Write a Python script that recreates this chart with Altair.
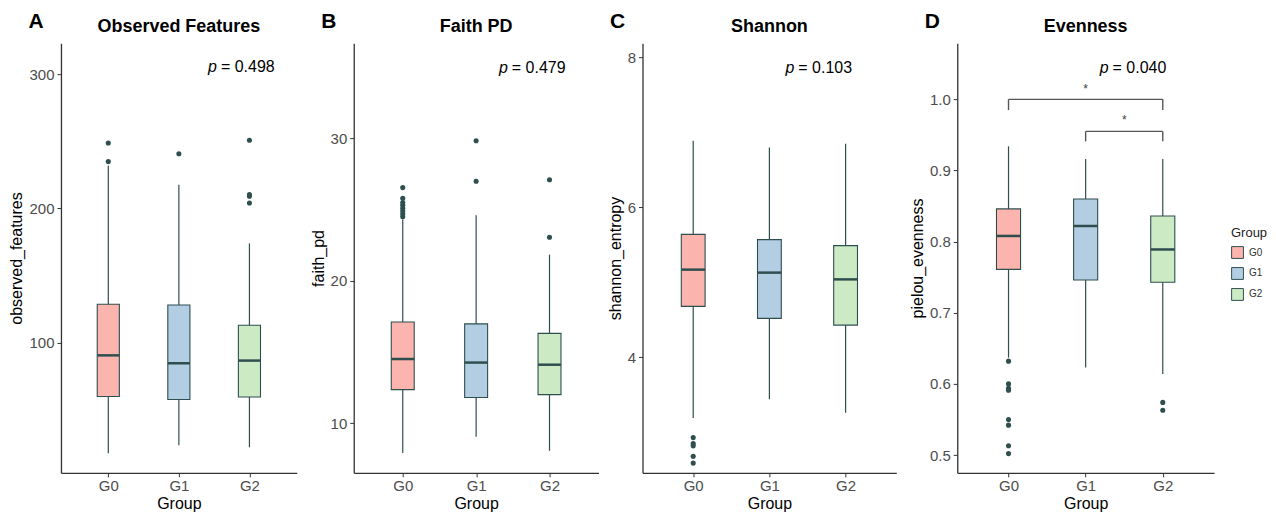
import altair as alt
import pandas as pd

groups = ["G0", "G1", "G2"]
xpos = [1, 2, 3]
colors = ["#FBB4AE", "#B3CDE3", "#CCEBC5"]
EDGE = "#2F4F4F"
FONT = "Liberation Sans"
H = 430

# Observed features
obs_low = [17.6, 23.6, 22.0]
obs_q1 = [59.8, 57.6, 59.5]
obs_med = [90.5, 84.6, 86.6]
obs_q3 = [128.5, 128.0, 112.9]
obs_high = [231.7, 217.5, 173.9]
obs_out_g = ["G0", "G0", "G1", "G2", "G2", "G2", "G2"]
obs_out_v = [248.7, 234.8, 240.7, 250.7, 210.3, 209.0, 204.0]

# Faith PD
fpd_low = [7.9, 9.03, 8.05]
fpd_q1 = [12.35, 11.8, 12.0]
fpd_med = [14.5, 14.25, 14.1]
fpd_q3 = [17.1, 16.97, 16.3]
fpd_high = [24.3, 24.6, 21.84]
fpd_out_g = ["G0"] * 8 + ["G1", "G1", "G2", "G2"]
fpd_out_v = [26.55, 25.8, 25.5, 25.3, 25.1, 24.9, 24.7, 24.5, 29.84, 27.0, 27.1, 23.06]

# Shannon
sha_low = [3.19, 3.44, 3.26]
sha_q1 = [4.68, 4.52, 4.43]
sha_med = [5.17, 5.13, 5.04]
sha_q3 = [5.64, 5.57, 5.49]
sha_high = [6.89, 6.80, 6.85]
sha_out_g = ["G0"] * 5
sha_out_v = [2.93, 2.85, 2.82, 2.68, 2.59]

# Evenness
eve_low = [0.637, 0.623, 0.614]
eve_q1 = [0.761, 0.746, 0.743]
eve_med = [0.808, 0.822, 0.789]
eve_q3 = [0.846, 0.860, 0.836]
eve_high = [0.934, 0.916, 0.916]
eve_out_g = ["G0"] * 8 + ["G2", "G2"]
eve_out_v = [0.632, 0.600, 0.594, 0.591, 0.550, 0.542, 0.513, 0.502, 0.574, 0.563]

# significance brackets (Evenness)
br_x1 = [1, 2]
br_x2 = [3, 3]
br_y = [1.0, 0.955]
br_drop = [0.985, 0.941]
br_label = ["*", "*"]
br_label_y = [1.015, 0.971]

color_scale = alt.Scale(domain=groups, range=colors)
xscale = alt.Scale(domain=[0.4, 3.6], nice=False, zero=False)
AXSTYLE = dict(labelFontSize=15, titleFontSize=16, labelFont=FONT, titleFont=FONT,
               labelColor="#4D4D4D", titleColor="black", titleFontWeight="normal",
               grid=False, domainColor="#333333", domainWidth=1.3, tickColor="#333333",
               tickSize=4, labelPadding=2, titlePadding=2)
xaxis = alt.Axis(values=xpos, labelExpr="'G' + (datum.value - 1)", title="Group", **AXSTYLE)


def panel(letter, title, ytitle, ydomain, yticks, yfmt, low, q1, med, q3, high,
          out_g, out_v, width, ptext, px, py, show_legend=False, brackets=False):
    spacing = width / 3.2
    bw = 0.3 * spacing
    summ = pd.DataFrame({"group": groups, "x": xpos, "low": low, "q1": q1,
                         "med": med, "q3": q3, "high": high})
    outs = pd.DataFrame({"group": out_g, "val": out_v})
    outs["x"] = outs["group"].map(dict(zip(groups, xpos)))
    yscale = alt.Scale(domain=ydomain, nice=False, zero=False)
    yaxis = alt.Axis(values=yticks, format=yfmt, title=ytitle, **{**AXSTYLE, "titlePadding": 4, "labelPadding": 3})
    X = alt.X("x:Q", scale=xscale, axis=xaxis)

    whisk = alt.Chart(summ).mark_rule(color=EDGE, strokeWidth=1.2).encode(
        x=X, y=alt.Y("low:Q", scale=yscale, axis=yaxis), y2="high:Q")
    if show_legend:
        leg = alt.Legend(title="Group", orient="none", legendX=width + 17, legendY=184,
                         symbolType="square", symbolSize=140, symbolStrokeColor=EDGE,
                         symbolStrokeWidth=1, labelFontSize=10, titleFontSize=13,
                         titleFontWeight="normal", titleFont=FONT, labelFont=FONT,
                         labelColor="#333333", titleColor="#222222", rowPadding=4,
                         titlePadding=6, padding=0, labelOffset=5)
    else:
        leg = None
    box = alt.Chart(summ).mark_bar(size=bw, stroke=EDGE, strokeWidth=1.1, orient="vertical",
                                   opacity=1).encode(
        x=X, y=alt.Y("q1:Q", scale=yscale, axis=yaxis), y2="q3:Q",
        color=alt.Color("group:N", scale=color_scale, legend=leg))
    medl = alt.Chart(summ).mark_tick(orient="horizontal", size=bw, thickness=2.5, color=EDGE,
                                     opacity=1).encode(
        x=X, y=alt.Y("med:Q", scale=yscale, axis=yaxis))
    pts = alt.Chart(outs).mark_circle(size=26, color=EDGE, opacity=1).encode(
        x=X, y=alt.Y("val:Q", scale=yscale, axis=yaxis))
    pdf = pd.DataFrame({"x": [px], "y": [py], "p": ["p"], "t": [ptext]})
    p1 = alt.Chart(pdf).mark_text(align="right", baseline="middle", fontSize=16, font=FONT,
                                  fontStyle="italic", color="black", dx=-1).encode(
        x=X, y=alt.Y("y:Q", scale=yscale, axis=yaxis), text="p:N")
    p2 = alt.Chart(pdf).mark_text(align="left", baseline="middle", fontSize=16, font=FONT,
                                  color="black", dx=3).encode(
        x=X, y=alt.Y("y:Q", scale=yscale, axis=yaxis), text="t:N")
    ldf = pd.DataFrame({"t": [letter], "n": [title]})
    let = alt.Chart(ldf).mark_text(fontSize=21, fontWeight="bold", font=FONT, color="black",
                                   align="center", baseline="middle").encode(
        text="t:N", x=alt.value(-25), y=alt.value(-21))
    ttl = alt.Chart(ldf).mark_text(fontSize=18, fontWeight="bold", font=FONT, color="black",
                                   align="center", baseline="middle").encode(
        text="n:N", x=alt.value(width / 2), y=alt.value(-16))
    layers = [whisk, box, medl, pts, p1, p2, let, ttl]
    if brackets:
        bdf = pd.DataFrame({"x1": br_x1, "x2": br_x2, "y": br_y, "yd": br_drop,
                            "lab": br_label, "ly": br_label_y})
        bdf["xm"] = (bdf["x1"] + bdf["x2"]) / 2
        h = alt.Chart(bdf).mark_rule(color="#555555", strokeWidth=1.4).encode(
            x=alt.X("x1:Q", scale=xscale, axis=xaxis), x2="x2:Q",
            y=alt.Y("y:Q", scale=yscale, axis=yaxis))
        l1 = alt.Chart(bdf).mark_rule(color="#555555", strokeWidth=1.4).encode(
            x=alt.X("x1:Q", scale=xscale, axis=xaxis),
            y=alt.Y("y:Q", scale=yscale, axis=yaxis), y2="yd:Q")
        l2 = alt.Chart(bdf).mark_rule(color="#555555", strokeWidth=1.4).encode(
            x=alt.X("x2:Q", scale=xscale, axis=xaxis),
            y=alt.Y("y:Q", scale=yscale, axis=yaxis), y2="yd:Q")
        st = alt.Chart(bdf).mark_text(fontSize=12, color="#444444", font=FONT, baseline="middle").encode(
            x=alt.X("xm:Q", scale=xscale, axis=xaxis),
            y=alt.Y("ly:Q", scale=yscale, axis=yaxis), text="lab:N")
        layers += [h, l1, l2, st]
    return alt.layer(*layers).properties(width=width, height=H)


A = panel("A", "Observed Features", "observed_features", [3, 323], [100, 200, 300], "d",
          obs_low, obs_q1, obs_med, obs_q3, obs_high, obs_out_g, obs_out_v, 236,
          "= 0.498", 2.554, 305)
B = panel("B", "Faith PD", "faith_pd", [6.5, 36.7], [10, 20, 30], "d",
          fpd_low, fpd_q1, fpd_med, fpd_q3, fpd_high, fpd_out_g, fpd_out_v, 245,
          "= 0.479", 2.446, 34.97)
C = panel("C", "Shannon", "shannon_entropy", [2.46, 8.19], [4, 6, 8], "d",
          sha_low, sha_q1, sha_med, sha_q3, sha_high, sha_out_g, sha_out_v, 254,
          "= 0.103", 2.34, 7.86)
D = panel("D", "Evenness", "pielou_evenness", [0.475, 1.079], [0.5, 0.6, 0.7, 0.8, 0.9, 1.0], ".1f",
          eve_low, eve_q1, eve_med, eve_q3, eve_high, eve_out_g, eve_out_v, 257,
          "= 0.040", 2.31, 1.044, show_legend=True, brackets=True)

left = alt.hconcat(A, B, spacing=13).resolve_scale(color="independent")
right = alt.hconcat(C, D, spacing=13).resolve_scale(color="independent")
chart = alt.hconcat(left, right, spacing=8).resolve_scale(
    color="independent").configure_view(
    stroke=None).properties(padding={"left": 0, "top": 3, "right": 0, "bottom": 0})

chart.save("out.html", embed_options={"renderer": "svg", "actions": False})
